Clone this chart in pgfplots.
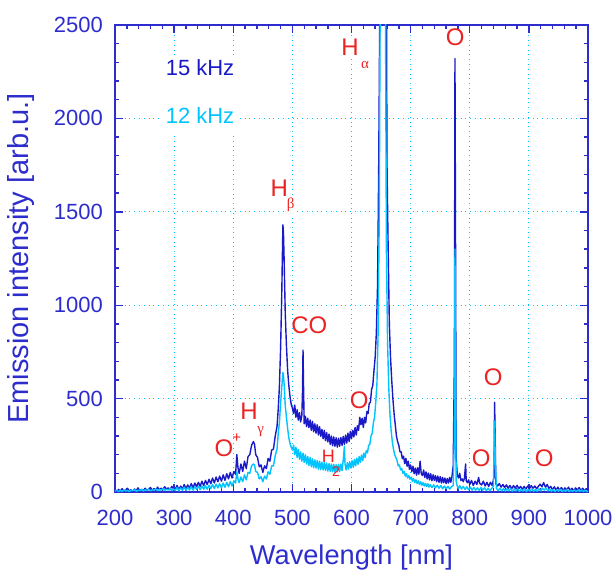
\documentclass[border=0pt]{standalone}
\usepackage{pgfplots}
\pgfplotsset{compat=1.18}
\usepackage{fontspec}
\setmainfont{Liberation Sans}
\newfontfamily\grk{Liberation Serif}
\definecolor{axblue}{RGB}{45,45,205}
\definecolor{specblue}{RGB}{25,25,200}
\definecolor{speccyan}{RGB}{0,195,255}
\definecolor{gridcyan}{RGB}{0,200,255}
\definecolor{lblred}{RGB}{235,35,35}

\pgfplotstableread[row sep=\\]{
x y\\
200 8\\ 203 2\\ 206 14\\ 209 5\\ 212 18\\ 215 4\\ 218 10\\ 221 20\\ 224 6\\ 227 12\\
230 3\\ 233 16\\ 236 8\\ 239 22\\ 242 5\\ 245 14\\ 248 9\\ 251 20\\ 254 7\\ 257 15\\
260 24\\ 263 10\\ 266 18\\ 269 8\\ 272 26\\ 275 12\\ 278 20\\ 281 14\\ 284 28\\ 287 16\\
290 22\\ 293 12\\ 296 30\\ 299 18\\ 302 15\\ 305 35\\ 308 12\\ 311 32\\ 314 15\\ 317 40\\
320 18\\ 323 38\\ 326 20\\ 329 45\\ 332 22\\ 335 48\\ 338 28\\ 341 52\\ 344 30\\ 347 58\\
350 34\\ 353 62\\ 356 40\\ 359 68\\ 362 44\\ 365 75\\ 368 48\\ 371 80\\ 374 55\\ 377 85\\
380 58\\ 383 92\\ 386 62\\ 389 98\\ 392 70\\ 395 105\\ 398 75\\ 401 110\\ 404 95\\ 406 200\\
408 130\\ 410 100\\ 413 150\\ 416 110\\ 419 165\\ 422 125\\ 425 190\\ 428 200\\ 431 250\\ 434 270\\
436 255\\ 438 200\\ 441 185\\ 444 135\\ 447 145\\ 450 105\\ 453 140\\ 456 125\\ 459 180\\ 462 165\\
465 225\\ 468 230\\ 471 300\\ 474 350\\ 476 440\\ 478 560\\ 480 760\\ 482 1050\\ 483 1250\\ 484 1430\\
485 1380\\ 486 1250\\ 487 1100\\ 488 950\\ 490 780\\ 492 650\\ 494 570\\ 496 510\\ 498 470\\
500 450\\ 502 420\\ 504 465\\ 506 400\\ 508 440\\ 510 385\\ 512 425\\ 514 375\\ 516 410\\ 517 520\\
518 760\\ 519 540\\ 520 365\\ 522 405\\ 524 350\\ 526 395\\ 528 345\\ 530 385\\ 532 330\\ 534 378\\
536 322\\ 538 365\\ 540 315\\ 542 360\\ 544 305\\ 546 350\\ 548 298\\ 550 335\\ 552 285\\ 554 330\\
556 275\\ 558 318\\ 560 268\\ 562 310\\ 564 255\\ 566 300\\ 568 248\\ 570 295\\ 572 245\\ 574 290\\
576 240\\ 578 288\\ 580 245\\ 582 292\\ 584 250\\ 586 298\\ 588 255\\ 590 305\\ 592 262\\ 594 315\\
596 270\\ 598 325\\ 600 285\\ 602 330\\ 604 295\\ 606 345\\ 608 305\\ 610 355\\ 612 330\\ 614 400\\
616 360\\ 618 395\\ 620 345\\ 622 400\\ 624 370\\ 626 430\\ 628 420\\ 630 475\\ 632 480\\ 634 550\\
636 570\\ 638 650\\ 640 720\\ 642 850\\ 644 1100\\ 645 1400\\ 646 1750\\ 647 2190\\ 648 2700\\ 650 4000\\
654 6000\\ 658 4000\\ 659 2800\\ 660 1760\\ 662 1300\\ 664 900\\ 666 720\\ 668 600\\ 670 500\\ 672 420\\
674 360\\ 676 300\\ 678 270\\ 680 250\\ 682 215\\ 684 215\\ 686 178\\ 688 192\\ 690 152\\ 692 180\\
694 138\\ 696 165\\ 698 122\\ 700 145\\ 702 108\\ 704 138\\ 706 98\\ 708 128\\ 710 90\\ 712 130\\
714 95\\ 716 165\\ 718 98\\ 720 88\\ 722 118\\ 724 78\\ 726 108\\ 728 70\\ 730 102\\ 732 65\\
734 98\\ 736 60\\ 738 92\\ 740 62\\ 742 88\\ 744 55\\ 746 85\\ 748 52\\ 750 82\\ 752 48\\
754 78\\ 756 50\\ 758 75\\ 760 45\\ 762 72\\ 764 48\\ 766 78\\ 768 52\\ 770 85\\ 772 140\\
774 700\\ 775 2320\\ 776 1300\\ 777 180\\ 779 90\\ 781 75\\ 783 100\\ 785 62\\ 787 70\\ 789 55\\
791 75\\ 793 150\\ 794 60\\ 796 50\\ 798 65\\ 800 40\\ 803 62\\ 806 35\\ 809 58\\ 812 40\\
815 78\\ 817 45\\ 820 38\\ 823 58\\ 826 32\\ 829 52\\ 832 30\\ 835 52\\ 838 35\\ 841 80\\
842 480\\ 843 300\\ 844 45\\ 847 32\\ 850 45\\ 853 26\\ 856 40\\ 859 24\\ 862 38\\ 865 20\\
868 35\\ 871 18\\ 874 34\\ 877 20\\ 880 36\\ 883 18\\ 886 30\\ 889 14\\ 892 30\\ 895 16\\
898 32\\ 901 18\\ 904 34\\ 907 20\\ 910 32\\ 913 18\\ 916 30\\ 919 42\\ 922 28\\ 925 50\\
928 26\\ 931 40\\ 934 18\\ 937 30\\ 940 12\\ 943 28\\ 946 10\\ 949 26\\ 952 10\\ 955 24\\
958 8\\ 961 22\\ 964 10\\ 967 26\\ 970 8\\ 973 20\\ 976 6\\ 979 22\\ 982 10\\ 985 24\\
988 8\\ 991 20\\ 994 6\\ 997 18\\ 1000 10\\
}\khzfifteen

\pgfplotstableread[row sep=\\]{
x y\\
200 4\\ 203 10\\ 206 2\\ 209 8\\ 212 3\\ 215 12\\ 218 5\\ 221 9\\ 224 2\\ 227 11\\
230 6\\ 233 14\\ 236 4\\ 239 10\\ 242 7\\ 245 15\\ 248 5\\ 251 12\\ 254 8\\ 257 16\\
260 6\\ 263 13\\ 266 9\\ 269 17\\ 272 7\\ 275 14\\ 278 10\\ 281 18\\ 284 8\\ 287 15\\
290 11\\ 293 19\\ 296 9\\ 299 16\\ 302 8\\ 305 24\\ 308 6\\ 311 22\\ 314 9\\ 317 26\\
320 8\\ 323 25\\ 326 11\\ 329 30\\ 332 10\\ 335 28\\ 338 14\\ 341 32\\ 344 12\\ 347 32\\
350 15\\ 353 35\\ 356 15\\ 359 36\\ 362 18\\ 365 40\\ 368 18\\ 371 42\\ 374 22\\ 377 45\\
380 22\\ 383 48\\ 386 25\\ 389 52\\ 392 28\\ 395 56\\ 398 32\\ 401 60\\ 404 48\\ 406 110\\
408 70\\ 410 50\\ 413 80\\ 416 55\\ 419 92\\ 422 65\\ 425 105\\ 428 100\\ 431 140\\ 434 150\\
436 145\\ 438 110\\ 441 105\\ 444 70\\ 447 82\\ 450 55\\ 453 85\\ 456 70\\ 459 108\\ 462 95\\
465 140\\ 468 140\\ 471 195\\ 474 230\\ 476 310\\ 478 370\\ 480 470\\ 482 560\\ 484 640\\ 485 620\\
486 580\\ 487 520\\ 488 460\\ 490 400\\ 492 340\\ 494 290\\ 496 260\\ 498 240\\
500 225\\ 502 250\\ 504 200\\ 506 240\\ 508 185\\ 510 228\\ 512 175\\ 514 215\\ 516 165\\ 518 208\\
520 158\\ 522 200\\ 524 150\\ 526 190\\ 528 142\\ 530 185\\ 532 135\\ 534 178\\ 536 130\\ 538 172\\
540 128\\ 542 168\\ 544 122\\ 546 165\\ 548 120\\ 550 160\\ 552 118\\ 554 158\\ 556 115\\ 558 155\\
560 112\\ 562 152\\ 564 110\\ 566 150\\ 568 108\\ 570 148\\ 572 106\\ 574 146\\ 576 108\\ 578 148\\
580 110\\ 582 150\\ 584 115\\ 586 170\\ 588 245\\ 589 150\\ 591 118\\ 593 158\\ 595 122\\ 597 162\\
599 128\\ 601 168\\ 603 132\\ 605 175\\ 607 140\\ 609 182\\ 611 148\\ 613 190\\ 615 158\\ 617 198\\
619 168\\ 621 208\\ 623 185\\ 625 222\\ 627 210\\ 629 250\\ 631 255\\ 633 300\\ 635 315\\ 637 370\\
639 400\\ 641 480\\ 643 580\\ 645 850\\ 647 1500\\ 649 3000\\ 653 6000\\ 657 3000\\ 659 1300\\ 661 800\\
663 560\\ 665 420\\ 667 330\\ 669 270\\ 671 230\\ 673 200\\ 675 185\\ 677 170\\ 679 140\\ 681 145\\
683 118\\ 685 125\\ 687 100\\ 689 110\\ 691 85\\ 693 98\\ 695 75\\ 697 88\\ 699 68\\ 701 80\\
703 58\\ 705 72\\ 707 50\\ 709 65\\ 711 45\\ 713 60\\ 715 40\\ 717 55\\ 719 36\\ 721 50\\
723 32\\ 725 46\\ 727 30\\ 729 44\\ 731 26\\ 733 40\\ 736 24\\ 739 38\\ 742 22\\ 745 36\\
748 20\\ 751 34\\ 754 18\\ 757 32\\ 760 18\\ 763 30\\ 766 16\\ 769 28\\ 772 35\\ 774 300\\
775 1300\\ 776 600\\ 777 60\\ 779 30\\ 781 18\\ 783 34\\ 786 16\\ 789 30\\ 792 14\\ 795 28\\
798 12\\ 801 26\\ 804 10\\ 807 24\\ 810 10\\ 813 22\\ 816 8\\ 819 24\\ 822 10\\ 825 22\\
828 8\\ 831 20\\ 834 7\\ 837 19\\ 840 30\\ 842 380\\ 843 200\\ 845 20\\ 848 8\\ 851 20\\
854 6\\ 857 18\\ 860 5\\ 863 17\\ 866 6\\ 869 19\\ 872 4\\ 875 16\\ 878 6\\ 881 17\\
884 3\\ 887 15\\ 890 5\\ 893 17\\ 896 3\\ 899 14\\ 902 5\\ 905 16\\ 908 3\\ 911 14\\
914 4\\ 917 17\\ 920 6\\ 923 20\\ 926 10\\ 929 22\\ 932 6\\ 935 16\\ 938 3\\ 941 14\\
944 2\\ 947 12\\ 950 4\\ 953 14\\ 956 2\\ 959 11\\ 962 3\\ 965 13\\ 968 2\\ 971 10\\
974 3\\ 977 12\\ 980 2\\ 983 11\\ 986 3\\ 989 12\\ 992 2\\ 995 10\\ 998 2\\ 1000 6\\
}\khztwelve

\begin{document}
\begin{tikzpicture}
\useasboundingbox (-57.5pt,-40.5pt) rectangle (249.5pt,246pt);
\begin{axis}[
  at={(0pt,0pt)}, anchor=south west,
  scale only axis, width=236.5pt, height=233.5pt,
  xmin=200, xmax=1000, ymin=0, ymax=2500,
  xtick={200,300,...,1000}, ytick={0,500,...,2500},
  minor x tick num=4, minor y tick num=4,
  tick align=inside, xtick pos=both, ytick pos=both,
  major tick length=4pt, minor tick length=2pt,
  axis line style={axblue, line width=0.9pt},
  tick style={axblue, line width=0.7pt},
  grid=major, major grid style={gridcyan, dotted, line width=0.5pt},
  tick label style={font=\fontsize{11}{13}\selectfont, text=axblue},
  /pgf/number format/assume math mode=true,
  /pgf/number format/1000 sep={},
  xticklabel style={yshift=-5.3pt},
  yticklabel style={xshift=-2.5pt},
  xlabel={Wavelength [nm]},
  ylabel={Emission intensity [arb.u.]},
  xlabel style={font=\fontsize{13.6}{16}\selectfont, text=axblue, at={(axis description cs:0.5,-0.1563)}, anchor=base},
  ylabel style={font=\fontsize{14.5}{17}\selectfont, text=axblue, at={(axis description cs:-0.198,0.5)}, anchor=center},
]
\addplot[specblue, line width=0.7pt, line join=round, no markers] table {\khzfifteen};
\addplot[speccyan, line width=0.7pt, line join=round, no markers] table {\khztwelve};

\fill[white] (axis cs:276,1927) rectangle (axis cs:408,2339);
\node[text=specblue, font=\fontsize{11}{13}\selectfont] at (axis cs:343.8,2272) {15 kHz};
\node[text=speccyan, font=\fontsize{11}{13}\selectfont] at (axis cs:343.8,2015) {12 kHz};

\tikzset{lbl/.style={text=lblred, font=\fontsize{12}{14}\selectfont, inner sep=1pt},
         sub/.style={text=lblred, font=\grk\fontsize{7.5}{9}\selectfont, inner sep=1pt}}
\node[lbl, fill=white] at (axis cs:597.6,2382) {H};
\node[sub, fill=white] at (axis cs:623,2286) {α};
\node[lbl] at (axis cs:775.3,2436) {O};
\node[lbl, fill=white] at (axis cs:478,1627) {H};
\node[sub, fill=white] at (axis cs:497.3,1536) {β};
\node[lbl] at (axis cs:528.8,894) {CO};
\node[lbl, fill=white, inner sep=0pt] at (axis cs:612.9,492) {O};
\node[text=lblred, font=\fontsize{9}{11}\selectfont, inner sep=1pt] at (axis cs:560.9,189) {H};
\node[text=lblred, font=\fontsize{7}{9}\selectfont, inner sep=1pt] at (axis cs:574,109) {2};
\node[lbl] at (axis cs:426.7,430) {H};
\node[sub] at (axis cs:446.5,323) {γ};
\node[lbl] at (axis cs:384.4,234) {O};
\node[text=lblred, font=\fontsize{7.5}{9}\selectfont, inner sep=1pt] at (axis cs:405.9,289) {+};
\node[lbl] at (axis cs:839.6,616) {O};
\node[lbl] at (axis cs:819.3,182) {O};
\node[lbl] at (axis cs:925.9,182) {O};
\end{axis}
\end{tikzpicture}
\end{document}
